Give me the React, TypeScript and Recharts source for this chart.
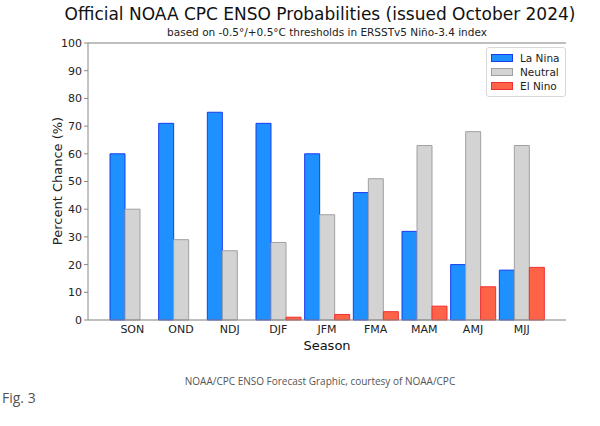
import React from 'react';
import {
  BarChart,
  Bar,
  XAxis,
  YAxis,
  CartesianGrid,
  ReferenceLine,
} from 'recharts';

const seasons = ['SON', 'OND', 'NDJ', 'DJF', 'JFM', 'FMA', 'MAM', 'AMJ', 'MJJ'];
const laNina = [60, 71, 75, 71, 60, 46, 32, 20, 18];
const neutral = [40, 29, 25, 28, 38, 51, 63, 68, 63];
const elNino = [0, 0, 0, 1, 2, 3, 5, 12, 19];
const yTicks = [0, 10, 20, 30, 40, 50, 60, 70, 80, 90, 100];

const data = seasons.map((s, i) => ({
  season: s,
  laNina: laNina[i],
  neutral: neutral[i],
  elNino: elNino[i],
}));

const font = 'DejaVu Sans, sans-serif';

const legendItems = [
  { label: 'La Nina', fill: '#1e90ff', stroke: '#1a3cf0' },
  { label: 'Neutral', fill: '#d3d3d3', stroke: '#a0a0a0' },
  { label: 'El Nino', fill: '#ff6347', stroke: '#f03030' },
];

function LegendBox() {
  return (
    <div
      style={{
        position: 'absolute',
        top: 47,
        left: 486,
        border: '1px solid #d8d8d8',
        borderRadius: 3,
        background: '#fff',
        padding: '3px 6px 3px 4px',
        fontFamily: font,
        fontSize: 10.5,
        color: '#222',
      }}
    >
      {legendItems.map((it) => (
        <div key={it.label} style={{ display: 'flex', alignItems: 'center', height: 14 }}>
          <span
            style={{
              display: 'inline-block',
              width: 20,
              height: 6,
              background: it.fill,
              border: `1px solid ${it.stroke}`,
              marginRight: 7,
            }}
          />
          {it.label}
        </div>
      ))}
    </div>
  );
}

export default function App() {
  return (
    <div style={{ position: 'absolute', left: 0, top: 0, width: 600, height: 426, background: '#fff' }}>
      <div
        style={{
          position: 'absolute',
          top: 4,
          left: 0,
          width: 640,
          textAlign: 'center',
          fontFamily: font,
          fontSize: 17,
          color: '#111',
        }}
      >
        Official NOAA CPC ENSO Probabilities (issued October 2024)
      </div>
      <div
        style={{
          position: 'absolute',
          top: 26,
          left: 0,
          width: 654,
          textAlign: 'center',
          fontFamily: font,
          fontSize: 10.5,
          color: '#222',
        }}
      >
        based on -0.5°/+0.5°C thresholds in ERSSTv5 Niño-3.4 index
      </div>
      <div
        style={{
          position: 'absolute',
          left: 57,
          top: 181,
          transform: 'translate(-50%, -50%) rotate(-90deg)',
          whiteSpace: 'nowrap',
          fontFamily: font,
          fontSize: 13,
          color: '#222',
        }}
      >
        Percent Chance (%)
      </div>
      <BarChart
        width={600}
        height={426}
        data={data}
        margin={{ top: 43, right: 34, bottom: 76, left: 48 }}
        barGap={0}
        barSize={15}
      >
        <CartesianGrid vertical={false} stroke="#ececec" />
        <XAxis
          dataKey="season"
          padding={{ left: 20, right: 20 }}
          tick={{ fontFamily: font, fontSize: 11, fill: '#222' }}
          axisLine={{ stroke: '#888' }}
          tickLine={false}
          tickSize={3}
          tickMargin={2}
          height={30}
          label={{ value: 'Season', position: 'insideBottom', offset: 0, style: { fontFamily: font, fontSize: 13, fill: '#111' } }}
        />
        <YAxis
          yAxisId="left"
          domain={[0, 100]}
          ticks={yTicks}
          width={40}
          interval={0}
          tick={{ fontFamily: font, fontSize: 11, fill: '#222' }}
          axisLine={{ stroke: '#888' }}
          tickLine={{ stroke: '#888' }}
          tickSize={4}
        />
        <YAxis yAxisId="right" orientation="right" domain={[0, 100]} tick={false} tickLine={false} width={0} axisLine={{ stroke: '#888' }} />
        <ReferenceLine yAxisId="left" y={100} stroke="#888" />
        <Bar dataKey="laNina" name="La Nina" yAxisId="left" fill="#1e90ff" stroke="#1a3cf0" strokeWidth={1} isAnimationActive={false} />
        <Bar dataKey="neutral" name="Neutral" yAxisId="left" fill="#d3d3d3" stroke="#a0a0a0" strokeWidth={1} isAnimationActive={false} />
        <Bar dataKey="elNino" name="El Nino" yAxisId="left" fill="#ff6347" stroke="#f03030" strokeWidth={1} isAnimationActive={false} />
      </BarChart>
      <LegendBox />
      <div
        style={{
          position: 'absolute',
          top: 374,
          left: 0,
          width: 640,
          textAlign: 'center',
          fontFamily: '"Open Sans", sans-serif',
          fontSize: 10,
          color: '#555',
        }}
      >
        NOAA/CPC ENSO Forecast Graphic, courtesy of NOAA/CPC
      </div>
      <div
        style={{
          position: 'absolute',
          top: 388,
          left: 2,
          fontFamily: '"Open Sans", sans-serif',
          fontSize: 14,
          color: '#555',
        }}
      >
        Fig. 3
      </div>
    </div>
  );
}
